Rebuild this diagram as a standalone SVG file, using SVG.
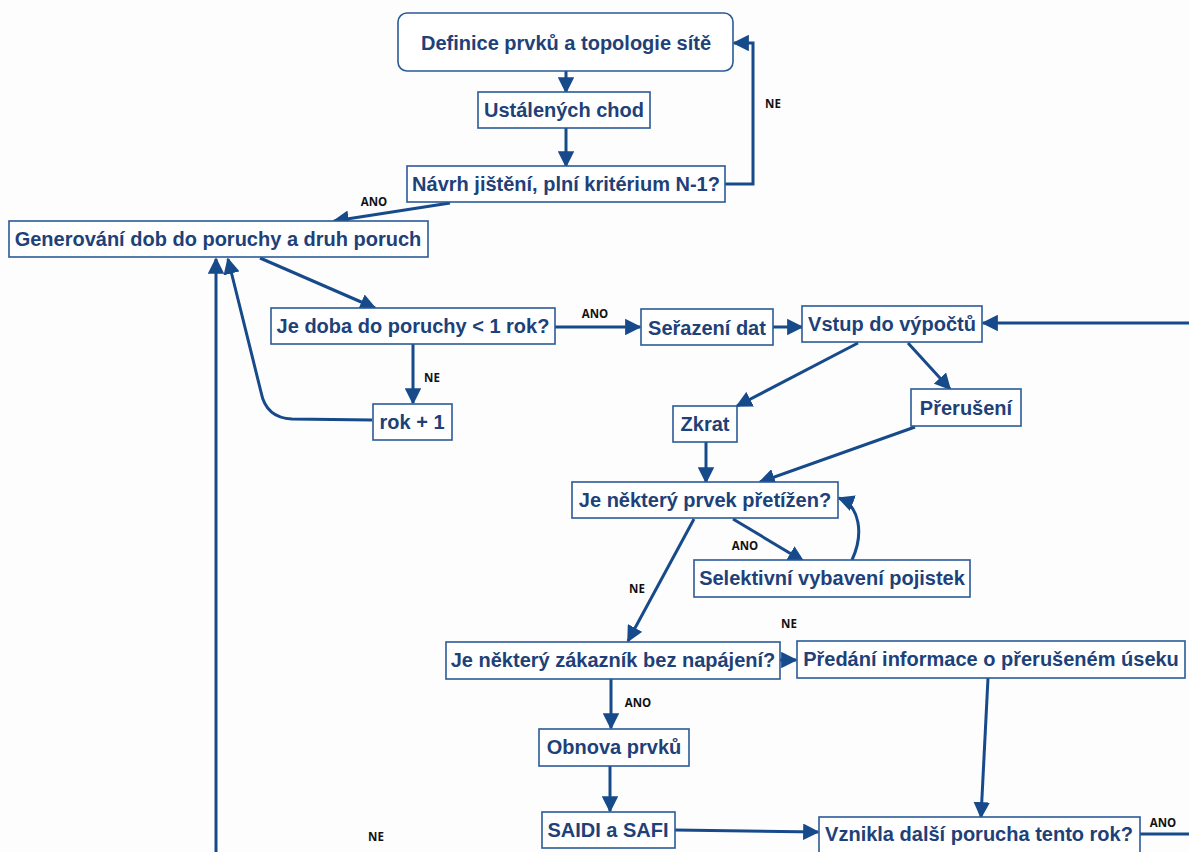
<svg xmlns="http://www.w3.org/2000/svg" width="1189" height="852" viewBox="0 0 1189 852">
  <style>
    .box { fill: #ffffff; stroke: #2a5a96; stroke-width: 1.6; }
    .t { font-family: "Liberation Sans", Arial, sans-serif; font-weight: bold; font-size: 20px; fill: #1d4178; text-anchor: middle; dominant-baseline: central; }
    .lbl { font-family: "Open Sans", "Liberation Sans", sans-serif; font-weight: bold; font-size: 11.5px; fill: #111111; text-anchor: middle; dominant-baseline: central; }
    .c { fill: none; stroke: #174a8a; stroke-width: 3; }
  </style>
  <defs>
    <marker id="ah" viewBox="0 0 10 10" refX="9" refY="5" markerWidth="5.5" markerHeight="5.5" markerUnits="strokeWidth" orient="auto">
      <path d="M0,0 L10,5 L0,10 z" fill="#174a8a"/>
    </marker>
  </defs>
  <rect width="1189" height="852" fill="#fdfdfd"/>

  <!-- connectors -->
  <g id="connectors">
    <path class="c" d="M566,71 L566,92" marker-end="url(#ah)"/>
    <path class="c" d="M566,128 L566,166" marker-end="url(#ah)"/>
    <path class="c" d="M725,184 L753,184 L753,43 L734,43" marker-end="url(#ah)"/>
    <path class="c" d="M450,203 L334,221" marker-end="url(#ah)"/>
    <path class="c" d="M260,258 L375,308" marker-end="url(#ah)"/>
    <path class="c" d="M555,327 L640,327" marker-end="url(#ah)"/>
    <path class="c" d="M773,327 L802,327" marker-end="url(#ah)"/>
    <path class="c" d="M1189,323 L983,323" marker-end="url(#ah)"/>
    <path class="c" d="M413,344 L413,403" marker-end="url(#ah)"/>
    <path class="c" d="M372,420 L292,419 Q266,418 261,392 L228,259" marker-end="url(#ah)"/>
    <path class="c" d="M216,852 L216,259" marker-end="url(#ah)"/>
    <path class="c" d="M858,343 L737,406" marker-end="url(#ah)"/>
    <path class="c" d="M908,343 L950,389" marker-end="url(#ah)"/>
    <path class="c" d="M706,442 L706,482" marker-end="url(#ah)"/>
    <path class="c" d="M915,427 L760,482" marker-end="url(#ah)"/>
    <path class="c" d="M733,519 L803,561" marker-end="url(#ah)"/>
    <path class="c" d="M852,560 C864,534 860,506 839,498" marker-end="url(#ah)"/>
    <path class="c" d="M694,519 L628,641" marker-end="url(#ah)"/>
    <path class="c" d="M780,660 L796,660" marker-end="url(#ah)"/>
    <path class="c" d="M611,679 L611,728" marker-end="url(#ah)"/>
    <path class="c" d="M610,766 L610,811" marker-end="url(#ah)"/>
    <path class="c" d="M675,830 L818,832" marker-end="url(#ah)"/>
    <path class="c" d="M988,678 L981,817" marker-end="url(#ah)"/>
    <path class="c" d="M1140,834 L1189,834"/>
  </g>

  <!-- branch labels -->
  <g id="labels">
    <text class="lbl" x="773" y="103">NE</text>
    <text class="lbl" x="374" y="201">ANO</text>
    <text class="lbl" x="595" y="313">ANO</text>
    <text class="lbl" x="432" y="377">NE</text>
    <text class="lbl" x="745" y="545">ANO</text>
    <text class="lbl" x="637" y="588">NE</text>
    <text class="lbl" x="789" y="623">NE</text>
    <text class="lbl" x="638" y="702">ANO</text>
    <text class="lbl" x="1163" y="822">ANO</text>
    <text class="lbl" x="376" y="836">NE</text>
  </g>

  <!-- nodes -->
  <g id="definice">
    <rect class="box" x="398" y="13" width="335" height="58" rx="9"/>
    <text class="t" x="566" y="43">Definice prvků a topologie sítě</text>
  </g>
  <g id="ustaleny">
    <rect class="box" x="478" y="92" width="172" height="36"/>
    <text class="t" x="564" y="110">Ustálených chod</text>
  </g>
  <g id="navrh">
    <rect class="box" x="407" y="166" width="318" height="36"/>
    <text class="t" x="566" y="184">Návrh jištění, plní kritérium N-1?</text>
  </g>
  <g id="generovani">
    <rect class="box" x="9" y="221" width="419" height="36"/>
    <text class="t" x="218" y="239">Generování dob do poruchy a druh poruch</text>
  </g>
  <g id="doba">
    <rect class="box" x="271" y="308" width="284" height="36"/>
    <text class="t" x="413" y="326">Je doba do poruchy &lt; 1 rok?</text>
  </g>
  <g id="serazeni">
    <rect class="box" x="641" y="309" width="132" height="36"/>
    <text class="t" x="707" y="328">Seřazení dat</text>
  </g>
  <g id="vstup">
    <rect class="box" x="802" y="306" width="180" height="36"/>
    <text class="t" x="892" y="324">Vstup do výpočtů</text>
  </g>
  <g id="rok">
    <rect class="box" x="373" y="404" width="79" height="36"/>
    <text class="t" x="412" y="422">rok + 1</text>
  </g>
  <g id="zkrat">
    <rect class="box" x="673" y="406" width="64" height="36"/>
    <text class="t" x="705" y="424">Zkrat</text>
  </g>
  <g id="preruseni">
    <rect class="box" x="911" y="389" width="110" height="37"/>
    <text class="t" x="966" y="408">Přerušení</text>
  </g>
  <g id="pretizen">
    <rect class="box" x="572" y="482" width="266" height="36"/>
    <text class="t" x="705" y="500">Je některý prvek přetížen?</text>
  </g>
  <g id="selektivni">
    <rect class="box" x="694" y="560" width="276" height="37"/>
    <text class="t" x="832" y="578">Selektivní vybavení pojistek</text>
  </g>
  <g id="zakaznik">
    <rect class="box" x="446" y="642" width="334" height="37"/>
    <text class="t" x="613" y="660">Je některý zákazník bez napájení?</text>
  </g>
  <g id="predani">
    <rect class="box" x="797" y="641" width="388" height="37"/>
    <text class="t" x="991" y="659">Předání informace o přerušeném úseku</text>
  </g>
  <g id="obnova">
    <rect class="box" x="539" y="729" width="150" height="37"/>
    <text class="t" x="614" y="747">Obnova prvků</text>
  </g>
  <g id="saidi">
    <rect class="box" x="542" y="812" width="133" height="36"/>
    <text class="t" x="608" y="830">SAIDI a SAFI</text>
  </g>
  <g id="vznikla">
    <rect class="box" x="819" y="817" width="321" height="38"/>
    <text class="t" x="979" y="834">Vznikla další porucha tento rok?</text>
  </g>
</svg>
